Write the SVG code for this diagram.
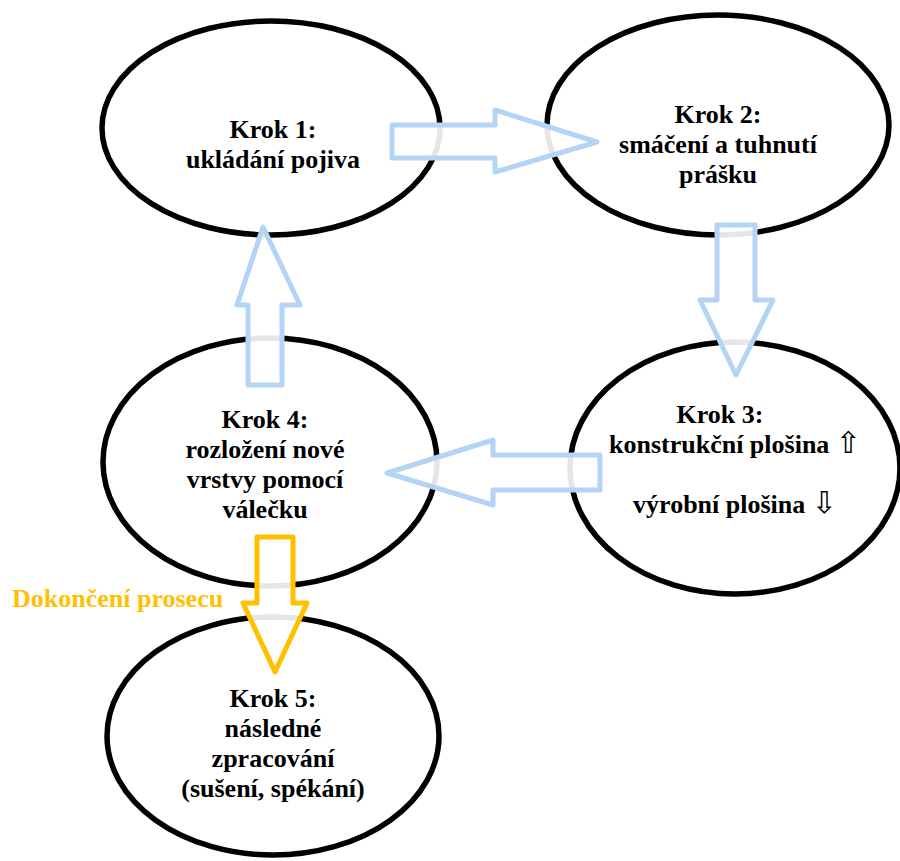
<svg xmlns="http://www.w3.org/2000/svg" width="900" height="861" viewBox="0 0 900 861">
<style>
.node ellipse{fill:#fff;stroke:#000;stroke-width:5.5}
.t{font-family:"Liberation Serif","Times New Roman",serif;font-weight:bold;font-size:26px;fill:#000;text-anchor:middle}
.sym{font-family:"DejaVu Sans",sans-serif;font-weight:normal;font-size:30px}
.arr{fill:#fff;fill-opacity:0.9;stroke:#b4d4f6;stroke-width:5;stroke-linejoin:round}
.arry{fill:#fff;fill-opacity:0.9;stroke:#ffc000;stroke-width:5;stroke-linejoin:round}
.lbl{font-family:"Liberation Serif","Times New Roman",serif;font-weight:bold;font-size:26px;fill:#ffc000}
</style>
<rect width="900" height="861" fill="#fff"/>
<g id="step1" class="node">
<ellipse cx="271" cy="128" rx="169" ry="107"/>
<text class="t" x="273" y="138">Krok 1:</text>
<text class="t" x="273" y="168">ukládání pojiva</text>
</g>
<g id="step2" class="node">
<ellipse cx="718" cy="125" rx="171" ry="110"/>
<text class="t" x="718" y="123">Krok 2:</text>
<text class="t" x="718" y="153">smáčení a tuhnutí</text>
<text class="t" x="718" y="183">prášku</text>
</g>
<g id="step3" class="node">
<ellipse cx="735" cy="468" rx="165" ry="126"/>
<text class="t" x="720" y="423">Krok 3:</text>
<text class="t" x="735" y="453">konstrukční plošina <tspan class="sym">⇧</tspan></text>
<text class="t" x="735" y="513">výrobní plošina <tspan class="sym">⇩</tspan></text>
</g>
<g id="step4" class="node">
<ellipse cx="270" cy="462" rx="167" ry="124"/>
<text class="t" x="265" y="428">Krok 4:</text>
<text class="t" x="265" y="458">rozložení nové</text>
<text class="t" x="265" y="488">vrstvy pomocí</text>
<text class="t" x="265" y="518">válečku</text>
</g>
<g id="step5" class="node">
<ellipse cx="273" cy="736" rx="166" ry="119"/>
<text class="t" x="273" y="707">Krok 5:</text>
<text class="t" x="273" y="737">následné</text>
<text class="t" x="273" y="767">zpracování</text>
<text class="t" x="273" y="797">(sušení, spékání)</text>
</g>
<g id="connectors">
<polygon class="arr" points="392,125 495,125 495,110 597,142 495,172 495,158 392,158"/>
<polygon class="arr" points="717,225 755,225 755,300 773,300 736,375 700,300 717,300"/>
<polygon class="arr" points="600,455 493,455 493,440 387,473 493,505 493,490 600,490"/>
<polygon class="arr" points="248,385 248,305 237,305 263,227 300,305 282,305 282,385"/>
<polygon class="arry" points="257,537 293,537 293,603 307,603 275,672 243,603 257,603"/>
<text class="lbl" x="12" y="607">Dokončení prosecu</text>
</g>
</svg>
